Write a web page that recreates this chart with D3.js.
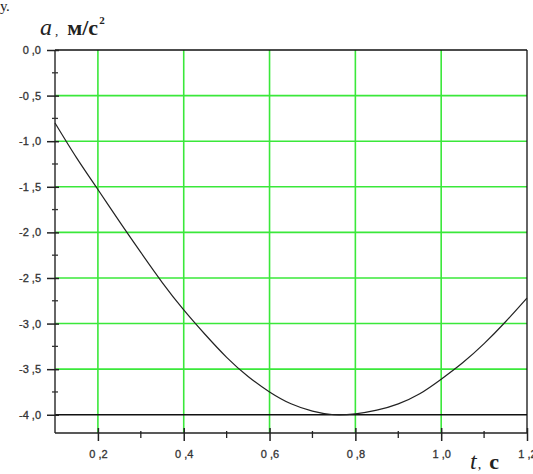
<!DOCTYPE html>
<html>
<head>
<meta charset="utf-8">
<script src="https://cdn.jsdelivr.net/npm/d3@7"></script>
<style>
  body { margin: 0; background: #fff; }
  svg { display: block; }
</style>
</head>
<body>
<div id="chart"></div>
<script>
// time, s
var tValues = [0.1, 0.15, 0.2, 0.25, 0.3, 0.35, 0.4, 0.45, 0.5, 0.55, 0.6, 0.65,
               0.7, 0.75, 0.8, 0.85, 0.9, 0.95, 1.0, 1.05, 1.1, 1.15, 1.2];
// acceleration, m/s^2
var aValues = [-0.80, -1.18, -1.53, -1.88, -2.22, -2.55, -2.85, -3.12, -3.37, -3.58, -3.75, -3.88,
               -3.96, -4.00, -3.99, -3.95, -3.88, -3.77, -3.61, -3.43, -3.22, -2.98, -2.72];

var xTicks = [0.2, 0.4, 0.6, 0.8, 1.0, 1.2];
var xMinor = [0.3, 0.5, 0.7, 0.9, 1.1];
var yTicks = [0, -0.5, -1, -1.5, -2, -2.5, -3, -3.5, -4];
var yMinor = [-0.25, -0.75, -1.25, -1.75, -2.25, -2.75, -3.25, -3.75];

var width = 533, height = 474;
var margin = {left: 55, top: 50, right: 6, bottom: 41};

var svg = d3.select("#chart").append("svg")
    .attr("width", width)
    .attr("height", height);

var x = d3.scaleLinear().domain([0.1, 1.2]).range([margin.left, width - margin.right]);
var y = d3.scaleLinear().domain([-4.2, 0]).range([height - margin.bottom, margin.top]);

var fmt = function (v) { return d3.format(".1f")(v).replace(".", " ,").replace("−", "-"); };

var green = "#3ae83a";

// vertical grid
svg.selectAll(".vgrid")
    .data(xTicks.slice(0, -1))
    .enter().append("line")
    .attr("class", "vgrid")
    .attr("x1", function (d) { return x(d); })
    .attr("x2", function (d) { return x(d); })
    .attr("y1", y(0))
    .attr("y2", y(-4.2))
    .attr("stroke", green)
    .attr("stroke-width", 1.6);

// horizontal grid
svg.selectAll(".hgrid")
    .data(yTicks.filter(function (d) { return d < 0 && d > -4; }))
    .enter().append("line")
    .attr("class", "hgrid")
    .attr("x1", x(0.1))
    .attr("x2", x(1.2))
    .attr("y1", function (d) { return y(d); })
    .attr("y2", function (d) { return y(d); })
    .attr("stroke", green)
    .attr("stroke-width", 1.6);

// black lines: top 0,0 and -4,0 plus right border
svg.selectAll(".hblack")
    .data([0, -4])
    .enter().append("line")
    .attr("x1", x(0.1))
    .attr("x2", x(1.2))
    .attr("y1", function (d) { return y(d); })
    .attr("y2", function (d) { return y(d); })
    .attr("stroke", "#111")
    .attr("stroke-width", 1.3);

svg.append("line")
    .attr("x1", x(1.2)).attr("x2", x(1.2))
    .attr("y1", y(0)).attr("y2", y(-4.2))
    .attr("stroke", "#111")
    .attr("stroke-width", 1.3);

var tickFont = "Arial, 'Liberation Sans', sans-serif";

// left axis
var yAxis = d3.axisLeft(y).tickValues(yTicks).tickSize(8).tickPadding(6).tickFormat(fmt);
var gy = svg.append("g")
    .attr("transform", "translate(" + margin.left + ",0)")
    .call(yAxis);
gy.select(".domain").attr("stroke", "#333").attr("stroke-width", 1.5)
    .attr("d", "M0," + y(0) + "V" + y(-4.2));
gy.selectAll(".tick line").attr("stroke", "#222").attr("stroke-width", 1.5).attr("x2", -8).attr("x1", 4);
gy.selectAll(".tick text")
    .attr("font-family", tickFont)
    .attr("font-size", 11)
    .attr("fill", "#333")
    .attr("stroke", "#333")
    .attr("stroke-width", 0.3);

svg.selectAll(".ymin")
    .data(yMinor)
    .enter().append("line")
    .attr("x1", margin.left - 3)
    .attr("x2", margin.left + 3)
    .attr("y1", function (d) { return y(d); })
    .attr("y2", function (d) { return y(d); })
    .attr("stroke", "#333")
    .attr("stroke-width", 1.3);

// bottom axis
var xAxis = d3.axisBottom(x).tickValues(xTicks).tickSize(8).tickPadding(9).tickFormat(fmt);
var gx = svg.append("g")
    .attr("transform", "translate(0," + (height - margin.bottom) + ")")
    .call(xAxis);
gx.select(".domain").attr("stroke", "#222").attr("stroke-width", 1.5)
    .attr("d", "M" + x(0.1) + ",0H" + x(1.2));
gx.selectAll(".tick line").attr("stroke", "#222").attr("stroke-width", 1.5).attr("y1", -5).attr("y2", 8);
gx.selectAll(".tick text")
    .attr("font-family", tickFont)
    .attr("font-size", 11)
    .attr("fill", "#333")
    .attr("stroke", "#333")
    .attr("stroke-width", 0.3);

svg.selectAll(".xmin")
    .data(xMinor)
    .enter().append("line")
    .attr("x1", function (d) { return x(d); })
    .attr("x2", function (d) { return x(d); })
    .attr("y1", height - margin.bottom - 2)
    .attr("y2", height - margin.bottom + 5)
    .attr("stroke", "#222")
    .attr("stroke-width", 1.3);

// curve
var line = d3.line()
    .x(function (d, i) { return x(tValues[i]); })
    .y(function (d) { return y(d); })
    .curve(d3.curveNatural);

svg.append("path")
    .datum(aValues)
    .attr("d", line)
    .attr("fill", "none")
    .attr("stroke", "#222")
    .attr("stroke-width", 1.2);

// axis titles
var ya = svg.append("text")
    .attr("x", 40)
    .attr("y", 35)
    .attr("font-family", "'Liberation Serif', 'DejaVu Serif', serif")
    .attr("fill", "#222");
ya.append("tspan").attr("font-style", "italic").attr("font-size", 24).text("a");
ya.append("tspan").attr("font-size", 13).attr("dx", 3).text(",");
ya.append("tspan").attr("font-weight", "bold").attr("font-size", 22).attr("dx", 9).text("м/с");
ya.append("tspan").attr("font-weight", "bold").attr("font-size", 11).attr("dx", 1).attr("dy", -11).text("2");

var xa = svg.append("text")
    .attr("x", 470)
    .attr("y", 469)
    .attr("font-family", "'Liberation Serif', 'DejaVu Serif', serif")
    .attr("fill", "#222");
xa.append("tspan").attr("font-style", "italic").attr("font-size", 24).text("t");
xa.append("tspan").attr("font-size", 14).attr("dx", 1).text(",");
xa.append("tspan").attr("font-weight", "bold").attr("font-size", 22).attr("dx", 8).text("с");

svg.append("text")
    .attr("x", 0)
    .attr("y", 11)
    .attr("font-family", "'Liberation Serif', serif")
    .attr("font-size", 15)
    .attr("fill", "#222")
    .text("у.");
</script>
</body>
</html>
